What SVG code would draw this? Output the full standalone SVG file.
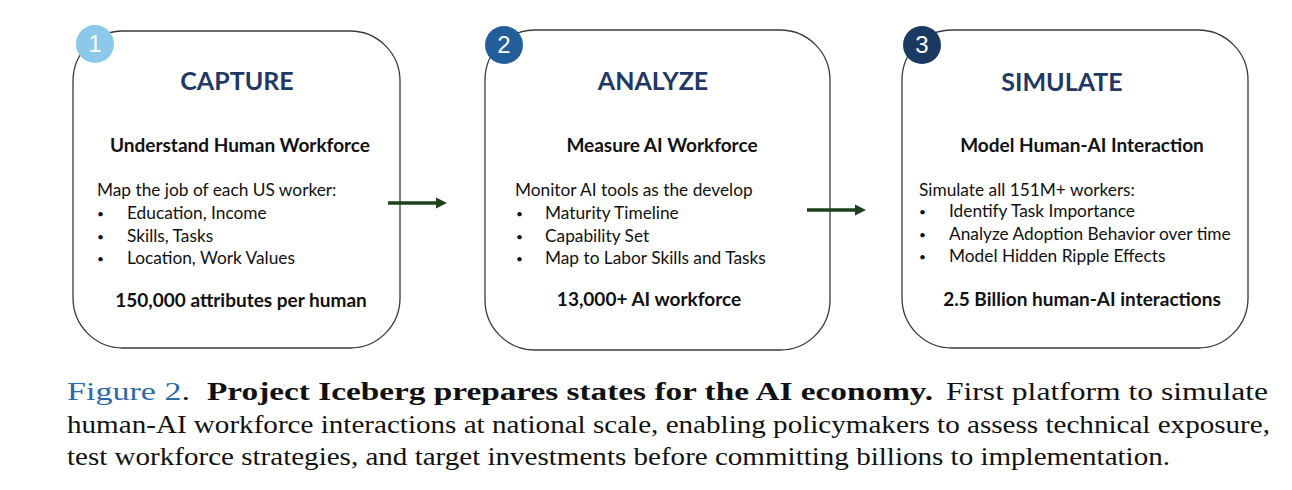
<svg xmlns="http://www.w3.org/2000/svg" width="1292" height="490" viewBox="0 0 1292 490">
<defs>
<style>
.box{fill:#fff;stroke:#3a3a3a;stroke-width:1.3}
.title{font-family:Lato,"Open Sans",sans-serif;font-weight:700;font-size:25px;fill:#1f3864;text-anchor:middle}
.sub{font-family:Lato,"Open Sans",sans-serif;font-weight:700;font-size:19px;fill:#111;text-anchor:middle}
.body{font-family:Lato,"Open Sans",sans-serif;font-size:17.3px;fill:#111}
.bul{font-family:Lato,"Open Sans",sans-serif;font-size:12px;fill:#111}
.num{font-family:"Liberation Sans",Arial,sans-serif;font-size:24px;fill:#fff;text-anchor:middle}
.cap{font-family:"Liberation Serif","Times New Roman",serif;font-size:26px;fill:#111}
.conn{stroke:#1b421d;stroke-width:3.5;fill:none}
</style>
<marker id="ah" markerWidth="12" markerHeight="12" refX="0" refY="6" orient="auto" markerUnits="userSpaceOnUse">
<path d="M0,0.5 L11,6 L0,11.5 Z" fill="#1b421d"/>
</marker>
</defs>
<rect width="1292" height="490" fill="#fff"/>

<g id="capture">
<rect class="box" x="73" y="31" width="327" height="317" rx="50"/>
<circle cx="95" cy="44" r="19" fill="#8cc8ea"/>
<text class="num" x="95" y="52">1</text>
<text class="title" x="237" y="90">CAPTURE</text>
<text class="sub" x="240" y="152">Understand Human Workforce</text>
<text class="body" x="97" y="196">Map the job of each US worker:</text>
<text class="bul" x="97" y="218">•</text><text class="body" x="127" y="219">Education, Income</text>
<text class="bul" x="97" y="241">•</text><text class="body" x="127" y="242">Skills, Tasks</text>
<text class="bul" x="97" y="263">•</text><text class="body" x="127" y="264">Location, Work Values</text>
<text class="sub" x="241" y="307">150,000 attributes per human</text>
</g>

<g id="analyze">
<rect class="box" x="485" y="30" width="345" height="320" rx="50"/>
<circle cx="504" cy="45" r="19" fill="#235e9a"/>
<text class="num" x="504" y="53">2</text>
<text class="title" x="653" y="90">ANALYZE</text>
<text class="sub" x="662" y="152">Measure AI Workforce</text>
<text class="body" x="515" y="196">Monitor AI tools as the develop</text>
<text class="bul" x="516" y="218">•</text><text class="body" x="545" y="219">Maturity Timeline</text>
<text class="bul" x="516" y="241">•</text><text class="body" x="545" y="242">Capability Set</text>
<text class="bul" x="516" y="263">•</text><text class="body" x="545" y="264">Map to Labor Skills and Tasks</text>
<text class="sub" x="649" y="306">13,000+ AI workforce</text>
</g>

<g id="simulate">
<rect class="box" x="902" y="30" width="346" height="318" rx="50"/>
<circle cx="922" cy="45" r="19" fill="#1b3a62"/>
<text class="num" x="922" y="53">3</text>
<text class="title" x="1062" y="91">SIMULATE</text>
<text class="sub" x="1082" y="152">Model Human-AI Interaction</text>
<text class="body" x="919" y="196">Simulate all 151M+ workers:</text>
<text class="bul" x="919" y="216">•</text><text class="body" x="949" y="217">Identify Task Importance</text>
<text class="bul" x="919" y="239">•</text><text class="body" x="949" y="240">Analyze Adoption Behavior over time</text>
<text class="bul" x="919" y="261">•</text><text class="body" x="949" y="262">Model Hidden Ripple Effects</text>
<text class="sub" x="1082" y="306">2.5 Billion human-AI interactions</text>
</g>

<g id="connectors">
<line class="conn" x1="388" y1="203" x2="436" y2="203" marker-end="url(#ah)"/>
<line class="conn" x1="807" y1="210" x2="855" y2="210" marker-end="url(#ah)"/>
</g>

<g id="caption">
<text class="cap" x="67" y="400" textLength="123" lengthAdjust="spacingAndGlyphs"><tspan fill="#2c6aa6">Figure 2</tspan>.</text>
<text class="cap" x="207" y="400" font-weight="700" textLength="726" lengthAdjust="spacingAndGlyphs">Project Iceberg prepares states for the AI economy.</text>
<text class="cap" x="946" y="400" textLength="322" lengthAdjust="spacingAndGlyphs">First platform to simulate</text>
<text class="cap" x="67" y="433" textLength="1203" lengthAdjust="spacingAndGlyphs">human-AI workforce interactions at national scale, enabling policymakers to assess technical exposure,</text>
<text class="cap" x="67" y="465" textLength="1103" lengthAdjust="spacingAndGlyphs">test workforce strategies, and target investments before committing billions to implementation.</text>
</g>
</svg>
